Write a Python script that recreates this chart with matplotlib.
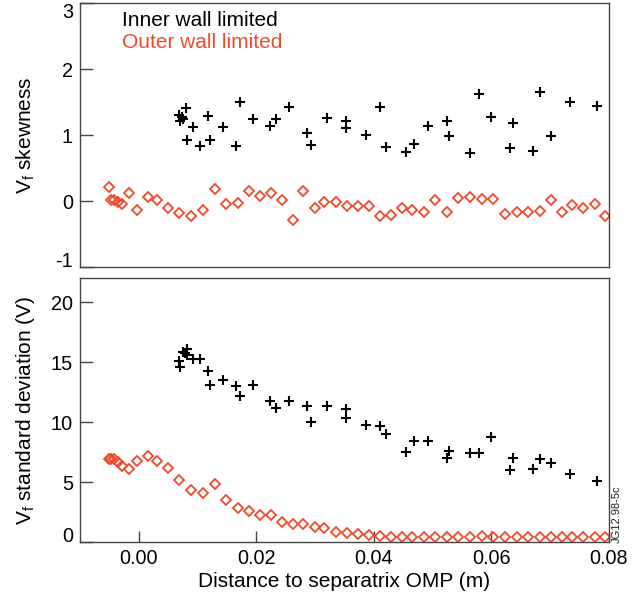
import matplotlib
matplotlib.use("Agg")
import matplotlib.pyplot as plt
from matplotlib.ticker import FormatStrFormatter

plt.rcParams['font.family'] = ['Liberation Sans', 'DejaVu Sans']
plt.rcParams['mathtext.default'] = 'regular'
plt.rcParams['axes.unicode_minus'] = False

RED = '#ee4a2c'
SPINE = '#444444'

# ---- data ----
inner_skew_x = [0.0069, 0.0073, 0.0075, 0.0070, 0.0081, 0.0093, 0.0082, 0.0105, 0.0117, 0.0121,
                0.0143, 0.0172, 0.0166, 0.0194, 0.0223, 0.0234, 0.0256, 0.0287, 0.0293, 0.0320,
                0.0353, 0.0353, 0.0387, 0.0410, 0.0421, 0.0455, 0.0468, 0.0492, 0.0525, 0.0527,
                0.0563, 0.0578, 0.0600, 0.0636, 0.0631, 0.0671, 0.0682, 0.0701, 0.0733, 0.0780]
inner_skew = [1.31, 1.27, 1.25, 1.22, 1.41, 1.12, 0.93, 0.83, 1.29, 0.93,
              1.13, 1.51, 0.84, 1.25, 1.14, 1.25, 1.42, 1.04, 0.85, 1.26,
              1.22, 1.11, 1.00, 1.42, 0.82, 0.75, 0.87, 1.14, 1.22, 0.98,
              0.73, 1.63, 1.28, 1.19, 0.80, 0.76, 1.66, 0.98, 1.51, 1.44]

inner_std_x = [0.0069, 0.0070, 0.0075, 0.0082, 0.0079, 0.0082, 0.0093, 0.0105, 0.0117, 0.0121,
               0.0143, 0.0166, 0.0172, 0.0194, 0.0223, 0.0234, 0.0256, 0.0287, 0.0293, 0.0320,
               0.0353, 0.0353, 0.0387, 0.0410, 0.0421, 0.0455, 0.0468, 0.0492, 0.0525, 0.0527,
               0.0563, 0.0578, 0.0600, 0.0636, 0.0631, 0.0671, 0.0682, 0.0701, 0.0733, 0.0780]
inner_std = [15.08, 14.58, 15.83, 16.08, 15.75, 15.6, 15.28, 15.28, 14.22, 13.11,
             13.53, 13.0, 12.17, 13.08, 11.72, 11.17, 11.72, 11.33, 10.0, 11.3,
             11.11, 10.36, 9.78, 9.64, 8.97, 7.5, 8.42, 8.39, 7.0, 7.58,
             7.42, 7.42, 8.75, 7.03, 5.97, 6.06, 6.95, 6.61, 5.64, 5.08]

outer_x = [-0.00506, -0.0047, -0.0042, -0.0035, -0.00278, -0.00165, -0.00023, 0.00159, 0.00318,
           0.00489, 0.00682, 0.00881, 0.01097, 0.0129, 0.01489, 0.01682, 0.01876, 0.02069,
           0.02256, 0.02438, 0.02621, 0.02802, 0.03001, 0.03154, 0.03359, 0.03541, 0.03728,
           0.03916, 0.04109, 0.04285, 0.04472, 0.04655, 0.04848, 0.05047, 0.05246, 0.05439,
           0.05632, 0.05843, 0.0603, 0.06228, 0.06428, 0.06621, 0.0682, 0.07008, 0.072,
           0.07377, 0.07565, 0.07758, 0.07928]
outer_skew = [0.22, 0.02, 0.01, -0.01, -0.05, 0.13, -0.14, 0.06, 0.02,
              -0.11, -0.18, -0.23, -0.14, 0.18, -0.05, -0.03, 0.16, 0.08,
              0.12, 0.02, -0.28, 0.15, -0.10, -0.01, -0.02, -0.08, -0.08,
              -0.07, -0.22, -0.21, -0.11, -0.13, -0.16, 0.02, -0.17, 0.05,
              0.06, 0.03, 0.03, -0.20, -0.17, -0.16, -0.15, 0.02, -0.17,
              -0.06, -0.10, -0.04, -0.23]
outer_std = [6.95, 6.95, 6.9, 6.67, 6.33, 6.06, 6.75, 7.17, 6.75,
             6.17, 5.14, 4.36, 4.08, 4.81, 3.53, 2.81, 2.61, 2.25,
             2.25, 1.64, 1.53, 1.53, 1.25, 1.2, 0.81, 0.78, 0.64,
             0.58, 0.5, 0.42, 0.42, 0.42, 0.42, 0.42, 0.42, 0.42,
             0.42, 0.5, 0.42, 0.42, 0.42, 0.42, 0.42, 0.42, 0.42,
             0.42, 0.42, 0.42, 0.42]

x_ticks = [0.00, 0.02, 0.04, 0.06, 0.08]
skew_ticks = [-1, 0, 1, 2, 3]
std_ticks = [0, 5, 10, 15, 20]

fig = plt.figure(figsize=(6.44, 5.98), dpi=100)
W, H = 644, 598
axL, axR = 80, 609
ax1 = fig.add_axes([axL / W, 1 - 267 / H, (axR - axL) / W, (267 - 3.3) / H])
ax2 = fig.add_axes([axL / W, 1 - 542 / H, (axR - axL) / W, (542 - 278) / H])

cross_kw = dict(linestyle='none', marker='+', color='black', markersize=7.4, markeredgewidth=1.5)
dia_kw = dict(linestyle='none', marker='D', markerfacecolor='none', markeredgecolor=RED,
              markersize=4.6, markeredgewidth=1.3)

ax1.plot(inner_skew_x, inner_skew, **cross_kw)
ax1.plot(outer_x, outer_skew, **dia_kw)
ax2.plot(inner_std_x, inner_std, **cross_kw)
ax2.plot(outer_x, outer_std, **dia_kw)

for ax in (ax1, ax2):
    ax.set_xlim(-0.01, 0.08)
    for s in ax.spines.values():
        s.set_color(SPINE)
        s.set_linewidth(1.0)
    ax.tick_params(axis='y', direction='in', length=9, width=1.0, color=SPINE,
                   labelsize=14.3, pad=5, right=False)
    ax.yaxis.set_label_coords(-0.082, 0.5)

ax1.set_ylim(-1, 3)
ax1.set_yticks(skew_ticks)
ax1.set_xticks([])
ax1.set_ylabel('V$_f$ skewness', fontsize=15)

ax2.set_ylim(0, 22)
ax2.set_yticks(std_ticks)
ax2.set_xticks(x_ticks)
ax2.xaxis.set_major_formatter(FormatStrFormatter('%.2f'))
ax2.tick_params(axis='x', direction='in', length=8, width=1.0, color=SPINE,
                labelsize=14.3, pad=5, top=False)
ax2.set_ylabel('V$_f$ standard deviation (V)', fontsize=15)
ax2.set_xlabel('Distance to separatrix OMP (m)', fontsize=15, labelpad=3)

# keep end labels inside the axes extent, as in the reference
fig.canvas.draw()
labs1 = ax1.get_yticklabels()
labs1[-1].set_va('top')
labs1[0].set_va('baseline')
labs2 = ax2.get_yticklabels()
labs2[0].set_va('baseline')

ax1.text(0.079, 0.934, 'Inner wall limited', transform=ax1.transAxes, fontsize=15,
         color='black', ha='left', va='center')
ax1.text(0.079, 0.851, 'Outer wall limited', transform=ax1.transAxes, fontsize=15,
         color=RED, ha='left', va='center')

fig.text(617 / W, 1 - 543 / H, 'JG12.98-5c', rotation=90, fontsize=8,
         ha='center', va='bottom', color='#222222')

fig.savefig('out.png', dpi=100)
